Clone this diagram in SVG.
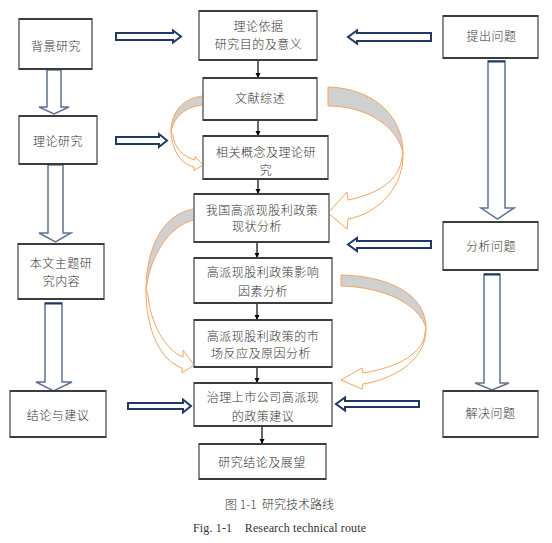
<svg xmlns="http://www.w3.org/2000/svg" width="552" height="543" viewBox="0 0 552 543">
<defs>
<style>
.box{fill:#fff;stroke:#8c8c8c;stroke-width:2}
.tb{fill:none;stroke:#3c3c3c;stroke-width:2}
.t{font-family:"Noto Sans CJK SC","Liberation Sans",sans-serif;font-size:12px;font-weight:300;fill:#333;text-anchor:middle;letter-spacing:0.5px}
.hz{fill:#fff;stroke:#1f3864;stroke-width:2;stroke-linejoin:miter}
.vt{fill:#fff;stroke:#5f7294;stroke-width:1.5}
.vtop{fill:none;stroke:#1f3864;stroke-width:2}
.cg{fill:#d0d0d0;stroke:#f4a462;stroke-width:1}
.cw{fill:#fff;stroke:#f4a462;stroke-width:1}
.ln{fill:none;stroke:#000;stroke-width:1.2}
.capz{font-family:"Noto Sans CJK SC",sans-serif;font-size:12px;font-weight:300;fill:#333;text-anchor:middle}
.cap{font-family:"Liberation Serif","Noto Sans CJK SC",serif;font-size:12px;fill:#333;text-anchor:middle}
</style>
<marker id="ah" viewBox="0 0 10 10" refX="10" refY="5" markerWidth="5.5" markerHeight="5.5" orient="auto" markerUnits="userSpaceOnUse">
<path d="M0,0 L10,5 L0,10 Z" fill="#000"/>
</marker>
</defs>
<rect width="552" height="543" fill="#fff"/>

<g id="connectors">
<!-- small black arrows -->
<path class="ln" d="M258,60 V78" marker-end="url(#ah)"/>
<path class="ln" d="M258,120 V136" marker-end="url(#ah)"/>
<path class="ln" d="M258,179 V194" marker-end="url(#ah)"/>
<path class="ln" d="M257,242 V258" marker-end="url(#ah)"/>
<path class="ln" d="M257,303 V320" marker-end="url(#ah)"/>
<path class="ln" d="M257,367 V383" marker-end="url(#ah)"/>
<path class="ln" d="M262,426 V444" marker-end="url(#ah)"/>
<!-- horizontal block arrows -->
<path class="hz" d="M116,33 H173 V30.5 L181,36.5 L173,42.5 V40 H116 Z"/>
<path class="hz" d="M431,33 H357 V30.5 L348,37 L357,43.5 V41 H431 Z"/>
<path class="hz" d="M116,137 H159 V134 L167,140.5 L159,147 V144 H116 Z"/>
<path class="hz" d="M431,241 H357 V238 L348,244.5 L357,251 V248 H431 Z"/>
<path class="hz" d="M128,403 H183 V399.5 L191,406 L183,412.5 V409 H128 Z"/>
<path class="hz" d="M419,401 H345 V397.5 L336,404 L345,410.5 V407 H419 Z"/>
<!-- vertical block arrows -->
<path class="vt" d="M47,69 H61 V107 H69 L54,114 L39,107 H47 Z"/>
<path class="vtop" d="M47,69.5 H61"/>
<path class="vt" d="M48,164 H63 V233 H71 L55.5,242 L39,233 H48 Z"/>
<path class="vtop" d="M48,164.5 H63"/>
<path class="vt" d="M45,303 H62 V382 H72 L53.5,391 L36,382 H45 Z"/>
<path class="vtop" d="M45,303.5 H62"/>
<path class="vt" d="M488,61 H505 V208 H514 L497.5,219 L481,208 H488 Z"/>
<path class="vtop" d="M488,61.5 H505"/>
<path class="vt" d="M484,274 H500 V383 H509 L492,390 L475,383 H484 Z"/>
<path class="vtop" d="M484,274.5 H500"/>
<!-- curved arrows -->
<path class="cg" d="M203,96 C183,98 171,112 171,132 C174,115 188,106 203,105 Z"/>
<path class="cw" d="M171,132 C172,152 182,164 194,167 L194,170.5 L203,165 L195,156.5 L195,160 C184,157 174,148 173,135 Z"/>
<path class="cg" d="M328,87 C372,88 403,115 403,153 C397,125 365,106 328,106 Z"/>
<path class="cw" d="M403,153 C404,186 380,213 348,219 L347,229 L328,213 L347,192 L348,200 C378,194 400,180 402,157 Z"/>
<path class="cg" d="M194,209 C165,213 146,245 146,290 C150,255 170,225 194,220 Z"/>
<path class="cw" d="M146,290 C146,330 160,360 182,368 L182,373 L194,365 L183,350 L183,357 C165,350 150,322 148,295 Z"/>
<path class="cg" d="M341,275 C390,276 426,295 426,328 C420,305 385,287 341,286 Z"/>
<path class="cw" d="M426,328 C427,356 400,378 363,384 L362,389 L341,380 L362,368 L363,373 C400,367 424,352 425,333 Z"/>
</g>

<g id="n-beijing"><rect class="box" x="19" y="19" width="73" height="50"/><path class="tb" d="M19,19 h73 M19,69 h73"/><text class="t" x="56" y="50.5">背景研究</text></g>
<g id="n-lilun"><rect class="box" x="19" y="116" width="78" height="48"/><path class="tb" d="M19,116 h78 M19,164 h78"/><text class="t" x="58" y="146">理论研究</text></g>
<g id="n-benwen"><rect class="box" x="18" y="244" width="86" height="55"/><path class="tb" d="M18,244 h86 M18,299 h86"/><text class="t" x="61" y="268">本文主题研</text><text class="t" x="61.5" y="286">究内容</text></g>
<g id="n-jielun"><rect class="box" x="10" y="391" width="96" height="46"/><path class="tb" d="M10,391 h96 M10,437 h96"/><text class="t" x="58" y="420">结论与建议</text></g>

<g id="n-yiju"><rect class="box" x="199" y="11" width="118" height="49"/><path class="tb" d="M199,11 h118 M199,60 h118"/><text class="t" x="258.5" y="31">理论依据</text><text class="t" x="258.5" y="49">研究目的及意义</text></g>
<g id="n-wenxian"><rect class="box" x="203" y="78" width="114" height="42"/><path class="tb" d="M203,78 h114 M203,120 h114"/><text class="t" x="260" y="103">文献综述</text></g>
<g id="n-xiangguan"><rect class="box" x="203" y="136" width="125" height="43"/><path class="tb" d="M203,136 h125 M203,179 h125"/><text class="t" x="266" y="157">相关概念及理论研</text><text class="t" x="266" y="175">究</text></g>
<g id="n-xianzhuang"><rect class="box" x="194" y="194" width="135" height="48"/><path class="tb" d="M194,194 h135 M194,242 h135"/><text class="t" x="262" y="215">我国高派现股利政策</text><text class="t" x="257" y="231">现状分析</text></g>
<g id="n-yingxiang"><rect class="box" x="194" y="258" width="138" height="45"/><path class="tb" d="M194,258 h138 M194,303 h138"/><text class="t" x="263" y="277">高派现股利政策影响</text><text class="t" x="263" y="296">因素分析</text></g>
<g id="n-fanying"><rect class="box" x="194" y="320" width="138" height="47"/><path class="tb" d="M194,320 h138 M194,367 h138"/><text class="t" x="263" y="341">高派现股利政策的市</text><text class="t" x="261" y="358">场反应及原因分析</text></g>
<g id="n-zhili"><rect class="box" x="194" y="383" width="138" height="43"/><path class="tb" d="M194,383 h138 M194,426 h138"/><text class="t" x="263" y="402">治理上市公司高派现</text><text class="t" x="263" y="421">的政策建议</text></g>
<g id="n-zhanwang"><rect class="box" x="199" y="444" width="127" height="35"/><path class="tb" d="M199,444 h127 M199,479 h127"/><text class="t" x="262" y="467">研究结论及展望</text></g>

<g id="n-tichu"><rect class="box" x="443" y="16" width="95" height="42"/><path class="tb" d="M443,16 h95 M443,58 h95"/><text class="t" x="491.5" y="41">提出问题</text></g>
<g id="n-fenxi"><rect class="box" x="443" y="222" width="95" height="48"/><path class="tb" d="M443,222 h95 M443,270 h95"/><text class="t" x="491" y="251">分析问题</text></g>
<g id="n-jiejue"><rect class="box" x="443" y="391" width="95" height="46"/><path class="tb" d="M443,391 h95 M443,437 h95"/><text class="t" x="490.5" y="418">解决问题</text></g>

<g id="caption">
<text class="capz" x="279.5" y="509" xml:space="preserve">图 1-1  研究技术路线</text>
<text class="cap" x="279.5" y="532" font-size="11" textLength="173" lengthAdjust="spacing" xml:space="preserve">Fig. 1-1    Research technical route</text>
</g>
</svg>
